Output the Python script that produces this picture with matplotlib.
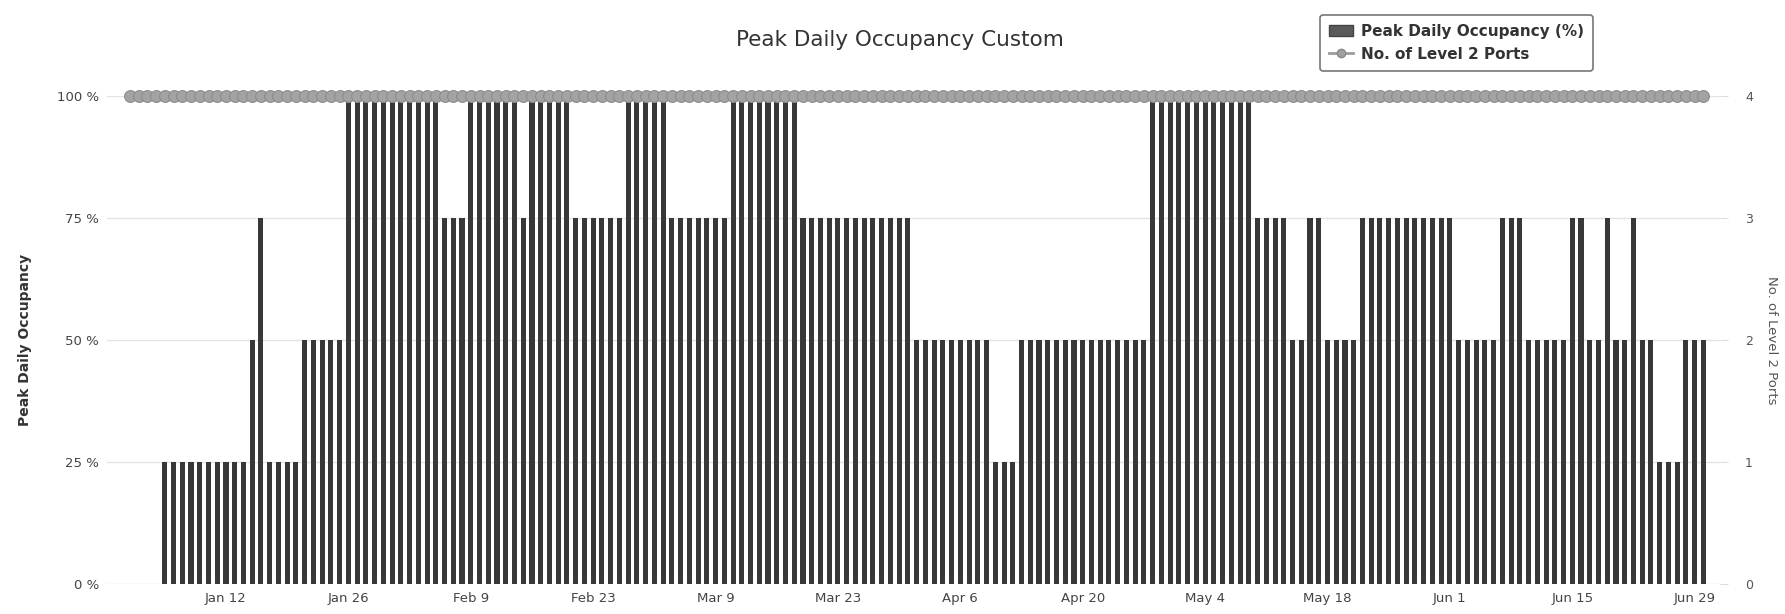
import pandas as pd
import matplotlib
matplotlib.use('Agg')
import matplotlib.pyplot as plt
from matplotlib.lines import Line2D
from matplotlib.patches import Patch

# Datos diarios (1 ene - 30 jun), ocupación máxima en %
ocupacion = [
    0, 0, 0, 0,
    25, 25, 25, 25, 25, 25, 25, 25, 25, 25,
    50, 75,
    25, 25, 25, 25,
    50, 50, 50, 50, 50,
    100, 100, 100, 100, 100, 100, 100, 100, 100, 100, 100,
    75, 75, 75,
    100, 100, 100, 100, 100, 100,
    75,
    100, 100, 100, 100, 100,
    75, 75, 75, 75, 75, 75,
    100, 100, 100, 100, 100,
    75, 75, 75, 75, 75, 75, 75,
    100, 100, 100, 100, 100, 100, 100, 100,
    75, 75, 75, 75, 75, 75, 75, 75, 75, 75, 75, 75, 75,
    50, 50, 50, 50, 50, 50, 50, 50, 50,
    25, 25, 25,
    50, 50, 50, 50, 50, 50, 50, 50, 50, 50, 50, 50, 50, 50, 50,
    100, 100, 100, 100, 100, 100, 100, 100, 100, 100, 100, 100,
    75, 75, 75, 75,
    50, 50,
    75, 75,
    50, 50, 50, 50,
    75, 75, 75, 75, 75, 75, 75, 75, 75, 75, 75,
    50, 50, 50, 50, 50,
    75, 75, 75,
    50, 50, 50, 50, 50,
    75, 75,
    50, 50,
    75,
    50, 50,
    75,
    50, 50,
    25, 25, 25,
    50, 50, 50,
]

# Número de puertos nivel 2 por día
puertos = [
    4, 4, 4, 4, 4, 4, 4, 4, 4, 4, 4, 4, 4, 4, 4, 4, 4, 4, 4, 4,
    4, 4, 4, 4, 4, 4, 4, 4, 4, 4, 4, 4, 4, 4, 4, 4, 4, 4, 4, 4,
    4, 4, 4, 4, 4, 4, 4, 4, 4, 4, 4, 4, 4, 4, 4, 4, 4, 4, 4, 4,
    4, 4, 4, 4, 4, 4, 4, 4, 4, 4, 4, 4, 4, 4, 4, 4, 4, 4, 4, 4,
    4, 4, 4, 4, 4, 4, 4, 4, 4, 4, 4, 4, 4, 4, 4, 4, 4, 4, 4, 4,
    4, 4, 4, 4, 4, 4, 4, 4, 4, 4, 4, 4, 4, 4, 4, 4, 4, 4, 4, 4,
    4, 4, 4, 4, 4, 4, 4, 4, 4, 4, 4, 4, 4, 4, 4, 4, 4, 4, 4, 4,
    4, 4, 4, 4, 4, 4, 4, 4, 4, 4, 4, 4, 4, 4, 4, 4, 4, 4, 4, 4,
    4, 4, 4, 4, 4, 4, 4, 4, 4, 4, 4, 4, 4, 4, 4, 4, 4, 4, 4, 4,
    4,
]

inicio = '2019-01-01'
ticks_x = pd.date_range('2019-01-12', '2019-06-29', freq='14D')
ticks_y = [0, 25, 50, 75, 100]
ticks_y2 = [0, 1, 2, 3, 4]

fechas = pd.date_range(inicio, periods=len(ocupacion), freq='D')

plt.rcParams['font.family'] = ['DejaVu Sans']

fig = plt.figure(figsize=(17.85, 6.14), dpi=100)
ax = fig.add_axes([0.06, 0.049, 0.9036, 0.7947])

# Columnas de ocupación
ax.bar(fechas, ocupacion, width=0.58, color='#383838', zorder=2)
ax.set_ylim(0, 100)
ax.set_yticks(ticks_y)
ax.set_yticklabels([f'{v} %' for v in ticks_y])
ax.grid(axis='y', color='#e3e3e3', linewidth=1, zorder=0)
ax.set_axisbelow(True)
ax.set_ylabel('Peak Daily Occupancy', fontsize=10, fontweight='bold', color='#333333', labelpad=18)

ax.set_xlim(fechas[0] - pd.Timedelta(days=2.6), fechas[-1] + pd.Timedelta(days=1.9))
ax.set_xticks(ticks_x)
ax.set_xticklabels([f'{d:%b} {d.day}' for d in ticks_x])
ax.tick_params(axis='x', length=0, labelsize=9.5, colors='#444444', pad=6)
ax.tick_params(axis='y', length=0, labelsize=9.5, colors='#444444', pad=6)
for s in ax.spines.values():
    s.set_visible(False)

# Eje secundario con los puertos
ax2 = ax.twinx()
ax2.plot(fechas, puertos, color='#9c9c9c', linewidth=3, marker='o', markersize=8.5,
         markerfacecolor='#a3a3a3', markeredgecolor='#8c8c8c', markeredgewidth=0.8,
         clip_on=False, zorder=3)
ax2.set_ylim(0, 4)
ax2.set_yticks(ticks_y2)
ax2.tick_params(axis='y', length=6, color='#dddddd', labelsize=9, colors='#555555', pad=12)
ax2.set_ylabel('No. of Level 2 Ports', fontsize=9.5, color='#555555', rotation=-90, labelpad=18)
for s in ax2.spines.values():
    s.set_visible(False)

fig.text(0.504, 0.935, 'Peak Daily Occupancy Custom', fontsize=15.5, color='#333333',
         ha='center', va='center')

# Leyenda
handles = [Patch(facecolor='#5a5a5a', edgecolor='#444444'),
           Line2D([0], [0], color='#9c9c9c', linewidth=2, marker='o', markersize=6,
                  markerfacecolor='#a0a0a0', markeredgecolor='#8a8a8a')]
leg = fig.legend(handles, ['Peak Daily Occupancy (%)', 'No. of Level 2 Ports'],
                 loc='upper left', bbox_to_anchor=(0.735, 0.988), fontsize=11,
                 frameon=True, fancybox=True, edgecolor='#555555', handlelength=1.6,
                 handletextpad=0.5, borderpad=0.6, labelspacing=0.5)
for t in leg.get_texts():
    t.set_fontweight('bold')
    t.set_color('#333333')
leg.get_frame().set_linewidth(1.2)

fig.savefig('out.png', dpi=100, facecolor='white')
